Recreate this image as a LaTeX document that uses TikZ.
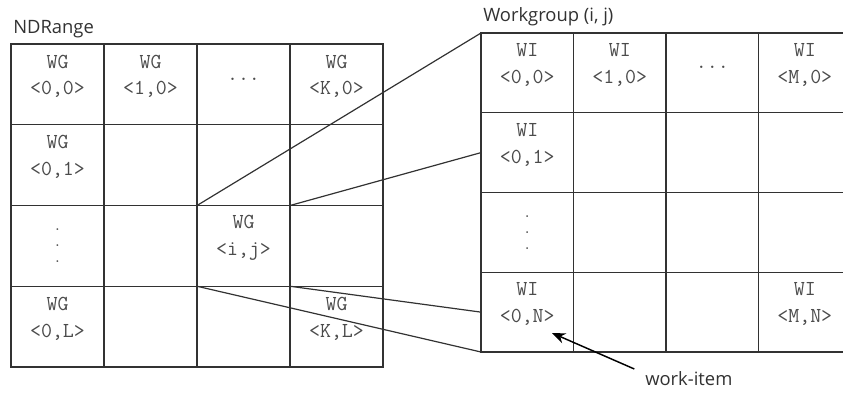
\documentclass[tikz,border=0pt]{standalone}
\usepackage{fontspec}
\setmainfont{Open Sans}
\usetikzlibrary{arrows.meta,calc}
\definecolor{gridline}{RGB}{50,50,50}
\definecolor{celltext}{RGB}{75,75,75}
\definecolor{labeltext}{RGB}{50,50,50}
\newcommand{\cellfnt}{\ttfamily\fontsize{16}{20}\selectfont\addfontfeatures{LetterSpace=9,FakeBold=1.5}}

\begin{document}
\begin{tikzpicture}[x=0.75pt,y=-0.75pt,
	ndcell/.style={draw=gridline,line width=1.1pt,minimum width=69.75pt,minimum height=60.56pt,inner sep=0pt,outer sep=0pt},
	wgcell/.style={ndcell,minimum width=69.4pt,minimum height=59.8pt},
	celltxt/.style={text=celltext,font=\cellfnt,align=center,inner sep=0pt},
	dotstxt/.style={celltxt,font=\cellfnt\fontsize{12}{12}\selectfont},
	lbl/.style={text=labeltext,font=\fontsize{13.8}{16}\selectfont,inner sep=0pt,anchor=west},
	link/.style={draw=gridline,line width=0.9pt}]
	%	\draw[help lines] (0,0) grid (843,394);
	\useasboundingbox (0,0) rectangle (843,394);
	\clip (0,0) rectangle (843,394);

		% the two grids
		\foreach \c in {0,...,3}
		\foreach \r in {0,...,3}{
			\node[ndcell] (nd-\c-\r) at ({11+93*(\c+.5)},{44+80.75*(\r+.5)}) {};
			\node[wgcell] (wg-\c-\r) at ({481+92.5*(\c+.5)},{33+79.75*(\r+.5)}) {};
		}

		\node[lbl] (ndrange) at (13,29) {NDRange};
		\node[lbl] (workgroup) at (483,17) {Workgroup (i, j)};

		\node[celltxt] (ndt-0-0) at ([yshift=6pt]nd-0-0.center) {WG\\<0,0>};
		\node[celltxt] (ndt-1-0) at ([yshift=6pt]nd-1-0.center) {WG\\<1,0>};
		\node[celltxt] (ndt-2-0) at ([yshift=4pt]nd-2-0.center) {...};
		\node[celltxt] (ndt-3-0) at ([yshift=6pt]nd-3-0.center) {WG\\<K,0>};
		\node[celltxt] (ndt-0-1) at ([yshift=6pt]nd-0-1.center) {WG\\<0,1>};
		\node[dotstxt] (ndt-0-2) at (nd-0-2.center) {.\\.\\.};
		\node[celltxt] (ndt-2-2) at ([yshift=6pt]nd-2-2.center) {WG\\<i,j>};
		\node[celltxt] (ndt-0-3) at ([yshift=6pt]nd-0-3.center) {WG\\<0,L>};
		\node[celltxt] (ndt-3-3) at ([yshift=6pt]nd-3-3.center) {WG\\<K,L>};

		\node[celltxt] (wgt-0-0) at ([yshift=6pt]wg-0-0.center) {WI\\<0,0>};
		\node[celltxt] (wgt-1-0) at ([yshift=6pt]wg-1-0.center) {WI\\<1,0>};
		\node[celltxt] (wgt-2-0) at ([yshift=4pt]wg-2-0.center) {...};
		\node[celltxt] (wgt-3-0) at ([yshift=6pt]wg-3-0.center) {WI\\<M,0>};
		\node[celltxt] (wgt-0-1) at ([yshift=6pt]wg-0-1.center) {WI\\<0,1>};
		\node[dotstxt] (wgt-0-2) at (wg-0-2.center) {.\\.\\.};
		\node[celltxt] (wgt-0-3) at ([yshift=6pt]wg-0-3.center) {WI\\<0,N>};
		\node[celltxt] (wgt-3-3) at ([yshift=6pt]wg-3-3.center) {WI\\<M,N>};

		% zoom lines from WG <i,j> to the workgroup
		\draw[link] (nd-2-2.north west) -- (wg-0-0.north west);
		\draw[link] (nd-2-2.north east) -- (wg-0-1.west);
		\draw[link] (nd-2-2.south west) -- (wg-0-3.south west);
		\draw[link] (nd-2-2.south east) -- (wg-0-3.west);

		\node[lbl] (witem) at (645,379) {work-item};
		\coordinate (wi-pt) at (552,333);
		\draw[link,draw=black,line width=1.1pt,-{Stealth[length=10pt,width=8pt]}] ([xshift=-8pt,yshift=2pt]witem.north west) -- (wi-pt);
\end{tikzpicture}
\end{document}
